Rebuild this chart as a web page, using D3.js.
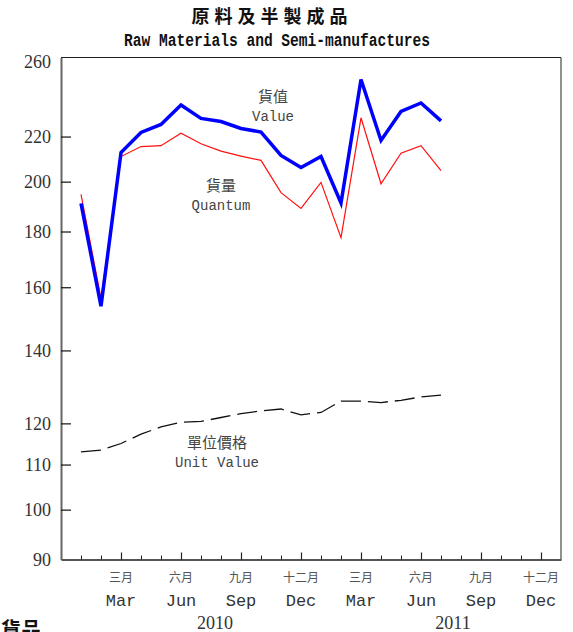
<!DOCTYPE html>
<html>
<head>
<meta charset="utf-8">
<script src="https://cdn.jsdelivr.net/npm/d3@7"></script>
<style>
  body { margin: 0; background: #fff; }
  svg { display: block; }
</style>
</head>
<body>
<svg width="573" height="632"></svg>
<script>
// month index: 1 = Jan 2010 ... 19 = Jul 2011
var months = d3.range(1, 20);
var valueIdx = [191.0, 153.7, 212.7, 221.9, 225.7, 235.2, 228.6, 227.1, 223.8, 222.1,
                211.4, 206.1, 210.9, 191.2, 248.2, 218.2, 232.0, 236.2, 227.4];
var quantumIdx = [194.7, 156.3, 210.9, 215.4, 215.8, 221.6, 216.7, 213.3, 211.1, 209.2,
                  195.4, 189.0, 199.7, 177.7, 228.9, 199.1, 212.4, 215.8, 204.7];
var unitValueIdx = [113.0, 113.4, 115.0, 117.3, 119.1, 120.3, 120.5, 121.5, 122.5, 123.2,
                    123.7, 122.2, 122.8, 125.8, 125.8, 125.4, 126.0, 126.9, 127.4];
var yTicks = [90, 100, 110, 120, 140, 160, 180, 200, 220, 260];
var quarterTicks = [3, 6, 9, 12, 15, 18, 21, 24];
var quarterZh = ["三月", "六月", "九月", "十二月", "三月", "六月", "九月", "十二月"];
var quarterEn = ["Mar", "Jun", "Sep", "Dec", "Mar", "Jun", "Sep", "Dec"];
var years = [{label: "2010", pos: 7.7}, {label: "2011", pos: 19.6}];

var svg = d3.select("svg"),
    plot = {left: 61, right: 561, top: 57.5, bottom: 559.5};

var x = d3.scaleLinear().domain([0, 25]).range([plot.left, plot.right]);
var y = d3.scaleLog().domain([90, 260]).range([plot.bottom, plot.top]);

var serif = "'Liberation Serif', 'DejaVu Serif', serif",
    mono = "'Liberation Mono', 'DejaVu Sans Mono', monospace",
    cjk = "'Noto Sans CJK TC', 'Noto Sans CJK SC', sans-serif";

// titles
svg.append("text")
    .attr("x", 272).attr("y", 23)
    .attr("text-anchor", "middle")
    .style("font", "bold 18px " + cjk)
    .style("letter-spacing", "5px")
    .attr("fill", "#111")
    .text("原料及半製成品");
svg.append("text")
    .attr("x", 124).attr("y", 46)
    .attr("textLength", 306).attr("lengthAdjust", "spacingAndGlyphs")
    .style("font", "bold 18px " + mono)
    .attr("fill", "#111")
    .text("Raw Materials and Semi-manufactures");

// frame
svg.append("path")
    .attr("d", "M" + plot.left + "," + plot.top + "H" + plot.right + "V" + plot.bottom)
    .attr("fill", "none").attr("stroke", "#222").attr("stroke-width", 1);

// y axis
var yAxis = d3.axisLeft(y).tickValues(yTicks).tickFormat(d3.format("d"))
    .tickSizeInner(-10).tickSizeOuter(0).tickPadding(10);
var gY = svg.append("g").attr("transform", "translate(" + plot.left + ",0)").call(yAxis);
gY.select(".domain").attr("stroke", "#666").attr("stroke-width", 2);
gY.selectAll(".tick line").attr("stroke", "#111").attr("stroke-width", 1.2)
    .filter(function (d) { return d === 90 || d === 260; }).remove();
gY.selectAll(".tick text").style("font", "18px " + serif).attr("fill", "#333")
    .filter(function (d) { return d === 260; }).attr("y", 4);

// x axis: monthly minor ticks, quarterly major ticks
var xMinor = d3.axisBottom(x).tickValues(d3.range(1, 25)).tickFormat("")
    .tickSizeInner(-4).tickSizeOuter(0);
var gX = svg.append("g").attr("transform", "translate(0," + plot.bottom + ")").call(xMinor);
gX.select(".domain").attr("stroke", "#555").attr("stroke-width", 2);
gX.selectAll(".tick line").attr("stroke", "#222");
var xMajor = d3.axisBottom(x).tickValues(quarterTicks).tickFormat("")
    .tickSizeInner(-7).tickSizeOuter(0);
var gX2 = svg.append("g").attr("transform", "translate(0," + plot.bottom + ")").call(xMajor);
gX2.select(".domain").remove();
gX2.selectAll(".tick line").attr("stroke", "#222").attr("stroke-width", 1.2);

svg.append("g").selectAll("text").data(quarterTicks).enter().append("text")
    .attr("x", function (d) { return x(d); })
    .attr("y", 582)
    .attr("text-anchor", "middle")
    .style("font", "12px " + cjk)
    .attr("fill", "#555")
    .text(function (d, i) { return quarterZh[i]; });
svg.append("g").selectAll("text").data(quarterTicks).enter().append("text")
    .attr("x", function (d) { return x(d); })
    .attr("y", 606)
    .attr("text-anchor", "middle")
    .style("font", "17px " + mono)
    .attr("fill", "#333")
    .text(function (d, i) { return quarterEn[i]; });
svg.append("g").selectAll("text").data(years).enter().append("text")
    .attr("x", function (d) { return x(d.pos); })
    .attr("y", 629)
    .attr("text-anchor", "middle")
    .style("font", "18px " + serif)
    .attr("fill", "#333")
    .text(function (d) { return d.label; });

// cut-off footer label, as in the original
svg.append("text")
    .attr("x", 1).attr("y", 637)
    .style("font", "bold 20px " + cjk)
    .attr("fill", "#111")
    .text("貨品");

// lines
var line = d3.line()
    .x(function (d) { return x(d[0]); })
    .y(function (d) { return y(d[1]); });

function pairs(vals) {
    return months.map(function (m, i) { return [m, vals[i]]; });
}

svg.append("path").datum(pairs(unitValueIdx))
    .attr("d", line).attr("fill", "none")
    .attr("stroke", "#111").attr("stroke-width", 1.3)
    .attr("stroke-dasharray", "20,7");
svg.append("path").datum(pairs(quantumIdx))
    .attr("d", line).attr("fill", "none")
    .attr("stroke", "#ff1010").attr("stroke-width", 1.2);
svg.append("path").datum(pairs(valueIdx))
    .attr("d", line).attr("fill", "none")
    .attr("stroke", "#0000ff").attr("stroke-width", 3.5)
    .attr("stroke-linejoin", "miter");

// series labels
var labels = [
    {zh: "貨值", en: "Value", x: 273, y: 97},
    {zh: "貨量", en: "Quantum", x: 221, y: 186},
    {zh: "單位價格", en: "Unit Value", x: 217, y: 443}
];
var lab = svg.append("g").selectAll("g").data(labels).enter().append("g");
lab.append("text")
    .attr("x", function (d) { return d.x; })
    .attr("y", function (d) { return d.y + 5; })
    .attr("text-anchor", "middle")
    .style("font", "15px " + cjk)
    .attr("fill", "#444")
    .text(function (d) { return d.zh; });
lab.append("text")
    .attr("x", function (d) { return d.x; })
    .attr("y", function (d) { return d.y + 24; })
    .attr("text-anchor", "middle")
    .style("font", "14px " + mono)
    .attr("fill", "#444")
    .text(function (d) { return d.en; });
</script>
</body>
</html>
